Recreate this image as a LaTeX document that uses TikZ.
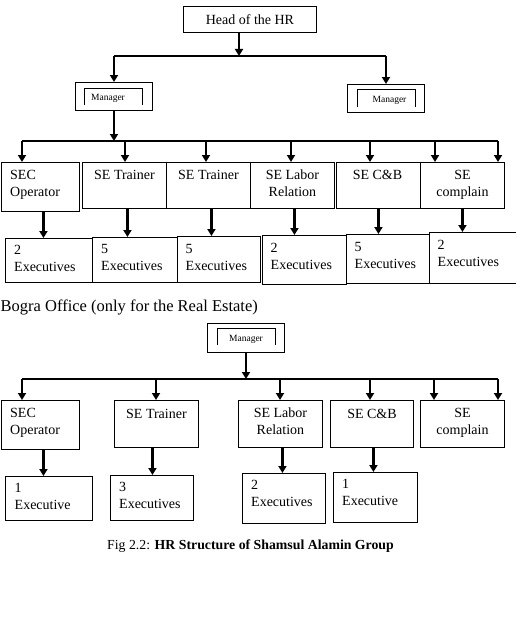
\documentclass[tikz,border=0pt]{standalone}
\usepackage{fontspec}
\setmainfont{Liberation Serif}
\usetikzlibrary{arrows.meta}
\begin{document}
\begin{tikzpicture}[x=1pt,y=-1pt,
  box/.style={draw, line width=0.9pt, inner sep=0pt, anchor=north west},
  ctxt/.style={font=\fontsize{14}{17}\selectfont, inner sep=0pt, align=center, anchor=base},
  ltxt/.style={font=\fontsize{14}{17}\selectfont, inner sep=0pt, align=left, anchor=base west},
  mtxt/.style={font=\fontsize{9.5}{11}\selectfont, inner sep=0pt, anchor=base},
  arr/.style={line width=2.8pt, -{Triangle[width=8pt,length=7pt]}},
  hl/.style={line width=1.4pt},
  brk/.style={line width=0.9pt},
]
\useasboundingbox (0,0) rectangle (528,626);

% ---------- top part ----------
\node[box, minimum width=133, minimum height=26, font=\fontsize{14}{17}\selectfont] (head) at (183,6) {Head of the HR};
\coordinate (j1) at (239,56);
\coordinate (j1l) at (114,56);
\coordinate (j1r) at (386,56);
\draw[hl] (j1l) -- (j1r);
\draw[arr] (head.south -| j1) -- (j1);

\node[box, minimum width=77, minimum height=28] (m1) at (75,82) {};
\node[box, minimum width=77, minimum height=28] (m2) at (347,84) {};
\draw[arr] (j1l) -- (j1l |- m1.north);
\draw[arr] (j1r) -- (j1r |- m2.north);
\draw[brk] ([shift={(9,23)}]m1.north west) -- ++(0,-17) -- ++(58,0) -- ++(0,17);
\draw[brk] ([shift={(10,23)}]m2.north west) -- ++(0,-18) -- ++(58,0) -- ++(0,18);
\node[mtxt] (m1t) at ([shift={(33,18)}]m1.north west) {Manager};
\node[mtxt] (m2t) at ([shift={(42.5,18)}]m2.north west) {Manager};

\coordinate (j2) at (114,141);
\coordinate (j2l) at (22,141);
\coordinate (j2r) at (498,141);
\draw[hl] (j2l) -- (j2r);
\draw[arr] (m1.south -| j2) -- (j2);

\node[box, minimum width=78, minimum height=49] (b1) at (1,162) {};
\node[box, minimum width=84, minimum height=46] (b2) at (82,162) {};
\node[box, minimum width=84, minimum height=46] (b3) at (166,162) {};
\node[box, minimum width=84, minimum height=46] (b4) at (250,162) {};
\node[box, minimum width=84, minimum height=46] (b5) at (336,162) {};
\node[box, minimum width=84, minimum height=46] (b6) at (420,162) {};

\coordinate (a1) at (22,141);
\coordinate (a2) at (125,141);
\coordinate (a3) at (206,141);
\coordinate (a4) at (291,141);
\coordinate (a5) at (370,141);
\coordinate (a6) at (435,141);
\coordinate (a7) at (498,141);
\draw[arr] (a1) -- (a1 |- b1.north);
\draw[arr] (a2) -- (a2 |- b2.north);
\draw[arr] (a3) -- (a3 |- b3.north);
\draw[arr] (a4) -- (a4 |- b4.north);
\draw[arr] (a5) -- (a5 |- b5.north);
\draw[arr] (a6) -- (a6 |- b6.north);
\draw[arr] (a7) -- (a7 |- b6.north);

\node[ltxt] (b1t) at ([shift={(9,34)}]b1.north west) {SEC\\Operator};
\node[ctxt] (b2t) at ([shift={(0,17)}]b2.north) {SE Trainer};
\node[ctxt] (b3t) at ([shift={(0,17)}]b3.north) {SE Trainer};
\node[ctxt] (b4t) at ([shift={(0,34)}]b4.north) {SE Labor\\Relation};
\node[ctxt] (b5t) at ([shift={(-1,17)}]b5.north) {SE C\&B};
\node[ctxt] (b6t) at ([shift={(0,34)}]b6.north) {SE\\complain};

\node[box, minimum width=87, minimum height=44] (e1) at (5,238) {};
\node[box, minimum width=85, minimum height=45] (e2) at (92,237) {};
\node[box, minimum width=83, minimum height=46] (e3) at (177,236) {};
\node[box, minimum width=84, minimum height=49] (e4) at (262,235) {};
\node[box, minimum width=83, minimum height=49] (e5) at (346,234) {};
\node[box, draw=none, minimum width=86, minimum height=51] (e6) at (429,232) {};
\draw[line width=0.9pt] (e6.north east) -- (e6.north west) -- (e6.south west) -- (e6.south east);

\path ([xshift=3pt]b1.south) coordinate (s1);
\path ([xshift=3pt]b2.south) coordinate (s2);
\path ([xshift=3pt]b3.south) coordinate (s3);
\path ([xshift=2pt]b4.south) coordinate (s4);
\path (b5.south) coordinate (s5);
\path (b6.south) coordinate (s6);
\draw[arr] (s1) -- (s1 |- e1.north);
\draw[arr] (s2) -- (s2 |- e2.north);
\draw[arr] (s3) -- (s3 |- e3.north);
\draw[arr] (s4) -- (s4 |- e4.north);
\draw[arr] (s5) -- (s5 |- e5.north);
\draw[arr] (s6) -- (s6 |- e6.north);

\node[ltxt] (e1t) at ([shift={(9,33)}]e1.north west) {2\\Executives};
\node[ltxt] (e2t) at ([shift={(9,33.5)}]e2.north west) {5\\Executives};
\node[ltxt] (e3t) at ([shift={(8.5,34)}]e3.north west) {5\\Executives};
\node[ltxt] (e4t) at ([shift={(8.5,34)}]e4.north west) {2\\Executives};
\node[ltxt] (e5t) at ([shift={(8.5,34)}]e5.north west) {5\\Executives};
\node[ltxt] (e6t) at ([shift={(8.5,34)}]e6.north west) {2\\Executives};

\node[font=\fontsize{16.5}{18}\selectfont, anchor=base west, inner sep=0pt] (bogra) at (0.5,311) {Bogra Office (only for the Real Estate)};

% ---------- bottom part ----------
\node[box, minimum width=77, minimum height=29] (m3) at (207,323) {};
\draw[brk] ([shift={(10,22)}]m3.north west) -- ++(0,-17) -- ++(58,0) -- ++(0,17);
\node[mtxt] (m3t) at ([shift={(39,18)}]m3.north west) {Manager};

\coordinate (j3) at (246,379);
\coordinate (j3l) at (22,379);
\coordinate (j3r) at (498,379);
\draw[hl] (j3l) -- (j3r);
\draw[arr] (m3.south -| j3) -- (j3);

\node[box, minimum width=78, minimum height=49] (c1) at (1,400) {};
\node[box, minimum width=84, minimum height=47] (c2) at (114,400) {};
\node[box, minimum width=84, minimum height=47] (c3) at (238,400) {};
\node[box, minimum width=83, minimum height=47] (c4) at (330,400) {};
\node[box, minimum width=84, minimum height=47] (c5) at (420,400) {};

\coordinate (g1) at (22,379);
\coordinate (g2) at (156,379);
\coordinate (g3) at (280,379);
\coordinate (g4) at (370,379);
\coordinate (g5) at (434,379);
\coordinate (g6) at (498,379);
\draw[arr] (g1) -- (g1 |- c1.north);
\draw[arr] (g2) -- (g2 |- c2.north);
\draw[arr] (g3) -- (g3 |- c3.north);
\draw[arr] (g4) -- (g4 |- c4.north);
\draw[arr] (g5) -- (g5 |- c5.north);
\draw[arr] (g6) -- (g6 |- c5.north);

\node[ltxt] (c1t) at ([shift={(9,34.5)}]c1.north west) {SEC\\Operator};
\node[ctxt] (c2t) at ([shift={(0,18)}]c2.north) {SE Trainer};
\node[ctxt] (c3t) at ([shift={(0,34.5)}]c3.north) {SE Labor\\Relation};
\node[ctxt] (c4t) at ([shift={(0,18)}]c4.north) {SE C\&B};
\node[ctxt] (c5t) at ([shift={(0,34.5)}]c5.north) {SE\\complain};

\node[box, minimum width=87, minimum height=44] (d1) at (5,476) {};
\node[box, minimum width=83, minimum height=45] (d2) at (110,475) {};
\node[box, minimum width=83, minimum height=50] (d3) at (242,473) {};
\node[box, minimum width=84, minimum height=50] (d4) at (333,472) {};

\path ([xshift=3pt]c1.south) coordinate (r1);
\path ([xshift=-4pt]c2.south) coordinate (r2);
\path ([xshift=2pt]c3.south) coordinate (r3);
\path ([xshift=1.5pt]c4.south) coordinate (r4);
\draw[arr] (r1) -- (r1 |- d1.north);
\draw[arr] (r2) -- (r2 |- d2.north);
\draw[arr] (r3) -- (r3 |- d3.north);
\draw[arr] (r4) -- (r4 |- d4.north);

\node[ltxt] (d1t) at ([shift={(9.5,33.5)}]d1.north west) {1\\Executive};
\node[ltxt] (d2t) at ([shift={(9,33.5)}]d2.north west) {3\\Executives};
\node[ltxt] (d3t) at ([shift={(9,33.5)}]d3.north west) {2\\Executives};
\node[ltxt] (d4t) at ([shift={(9,33.5)}]d4.north west) {1\\Executive};

\node[font=\fontsize{13.8}{16}\selectfont, anchor=base west, inner sep=0pt] (cap) at (107,549) {Fig 2.2: \textbf{HR Structure of Shamsul Alamin Group}};
\end{tikzpicture}
\end{document}
